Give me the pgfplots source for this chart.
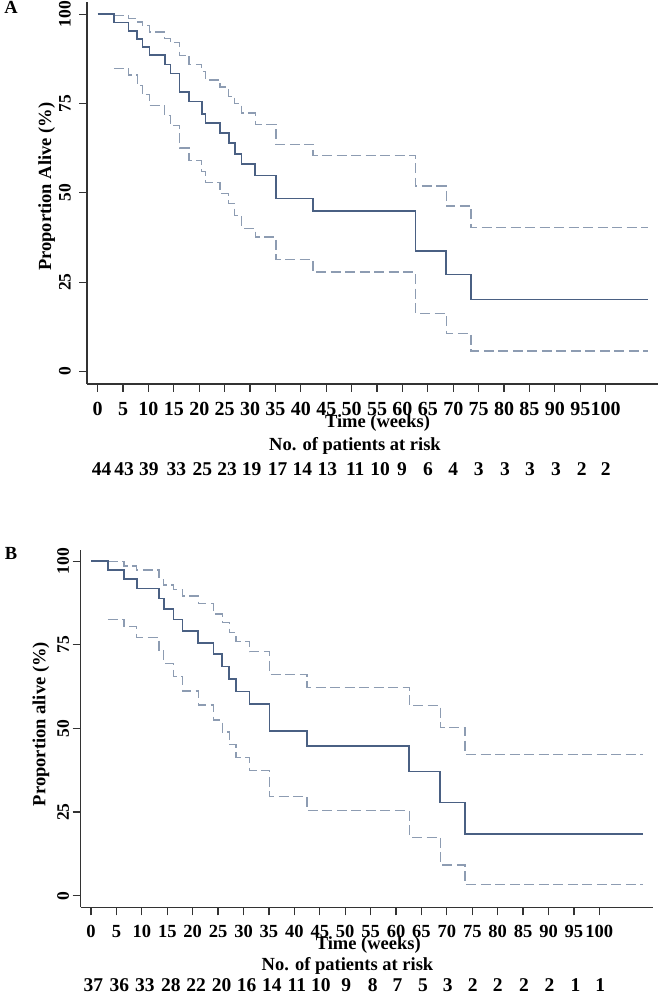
\documentclass[border=0pt]{standalone}
\usepackage{pgfplots}
\usepackage{pgfplotstable}
\pgfplotsset{compat=1.18}
\usepackage{fontspec}
\setmainfont{Liberation Serif}
\definecolor{kmline}{HTML}{4A6083}
\definecolor{kmci}{HTML}{8D9CB2}
\definecolor{axcol}{HTML}{333333}

\pgfplotsset{
  kmaxis/.style={
    scale only axis,
    axis lines*=left,
    axis line style={-, line width=1.4pt, color=axcol},
    tick style={line width=1.2pt, color=axcol},
    tick align=outside,
    major tick length=8pt,
    xtick={0,5,...,100},
    ytick={0,25,50,75,100},
    /pgf/number format/assume math mode=true,
    tick label style={text=black},
    yticklabel style={font=\fontsize{17.5}{19}\selectfont\bfseries, rotate=90, anchor=south},
    label style={font=\fontsize{18.5}{20}\selectfont\bfseries, text=black},
    clip=false,
  },
  km/.style={const plot, line width=1.6pt, color=kmline, mark=none},
  ci/.style={const plot, line width=1.3pt, color=kmci, mark=none, dash pattern=on 10pt off 4.5pt},
  risk/.style={draw=none, mark=none, nodes near coords, point meta=explicit symbolic,
    every node near coord/.style={anchor=center, inner sep=0pt, font=\fontsize{#1}{20}\selectfont\bfseries, text=black}},
}

\pgfplotstableread{
t v
0 100
3.2 97.7
6.1 95.3
7.8 93.0
8.8 90.8
10.2 88.5
13.2 85.9
14.3 83.4
16.1 78.2
18.0 75.6
20.5 72.1
21.2 69.6
24.1 66.7
25.8 63.9
27.0 60.9
28.3 58.0
31.0 54.9
35.1 48.4
42.4 44.9
62.6 33.7
68.6 27.1
73.5 20.2
108.4 20.2
}\solidA
\pgfplotstableread{
t v
3.2 99.6
6.1 98.8
7.8 97.8
8.8 96.8
10.2 95.0
13.2 93.2
14.3 92.0
16.1 88.5
18.0 86.0
20.5 83.9
21.2 81.6
24.1 79.6
25.8 77.0
27.0 75.0
28.3 72.3
31.0 69.2
35.1 63.6
42.4 60.5
62.6 51.9
68.6 46.3
73.5 40.2
108.4 40.2
}\upperA
\pgfplotstableread{
t v
3.2 84.8
6.1 83.0
7.8 80.0
8.8 77.5
10.2 74.5
13.2 71.7
14.3 68.9
16.1 62.5
18.0 59.1
20.5 56.0
21.2 52.9
24.1 49.9
25.8 47.1
27.0 43.7
28.3 40.1
31.0 37.6
35.1 31.3
42.4 27.8
62.6 16.3
68.6 10.6
73.5 5.7
108.4 5.7
}\lowerA
\pgfplotstableread{
t v
0 100
3.3 97.3
6.5 94.6
9.0 91.8
13.4 88.9
14.3 85.7
16.2 82.6
18.0 79.2
21.1 75.6
24.1 72.2
25.8 68.5
27.2 64.8
28.5 61.0
31.2 57.3
35.1 49.3
42.5 44.7
62.6 37.1
68.7 27.9
73.6 18.5
108.5 18.5
}\solidB
\pgfplotstableread{
t v
3.3 99.9
6.5 98.6
9.0 97.4
13.4 94.6
14.3 92.9
16.2 91.6
18.0 89.6
21.1 87.4
24.1 84.2
25.8 81.6
27.2 78.6
28.5 75.9
31.2 72.9
35.1 66.2
42.5 62.3
62.6 56.8
68.7 50.2
73.6 42.3
108.5 42.3
}\upperB
\pgfplotstableread{
t v
3.3 82.6
6.5 80.4
9.0 77.2
13.4 73.4
14.3 69.5
16.2 65.5
18.0 61.2
21.1 57.0
24.1 52.5
25.8 48.9
27.2 45.1
28.5 41.3
31.2 37.4
35.1 29.6
42.5 25.4
62.6 17.5
68.7 9.2
73.6 3.4
108.5 3.4
}\lowerB
\pgfplotstableread{
x y n
0.8 -27.25 44
5.2 -27.25 43
10.1 -27.25 39
15.5 -27.25 33
20.6 -27.25 25
25.5 -27.25 23
30.3 -27.25 19
35.4 -27.25 17
40.3 -27.25 14
45.2 -27.25 13
50.7 -27.25 11
55.6 -27.25 10
59.9 -27.25 9
65.0 -27.25 6
70.0 -27.25 4
75.0 -27.25 3
80.2 -27.25 3
85.1 -27.25 3
90.2 -27.25 3
95.3 -27.25 2
100.0 -27.25 2
}\riskA
\pgfplotstableread{
x y n
0.45 -26.8 37
5.57 -26.8 36
10.6 -26.8 33
15.7 -26.8 28
20.7 -26.8 22
25.7 -26.8 20
30.6 -26.8 16
35.6 -26.8 14
40.5 -26.8 11
45.2 -26.8 10
50.2 -26.8 9
55.4 -26.8 8
60.3 -26.8 7
65.3 -26.8 5
70.2 -26.8 3
75.1 -26.8 2
80.0 -26.8 2
85.2 -26.8 2
90.2 -26.8 2
95.3 -26.8 1
100.2 -26.8 1
}\riskB

\begin{document}
\begin{tikzpicture}
\useasboundingbox (0pt,0pt) rectangle (661pt,996pt);
\node[font=\fontsize{18.5}{20}\selectfont\bfseries] at (11pt,989pt) {A};
\node[font=\fontsize{18.5}{20}\selectfont\bfseries] at (11pt,443pt) {B};

\begin{axis}[kmaxis,
  at={(87pt,612pt)}, anchor=south west,
  width=571pt, height=382pt,
  xmin=-2.1, xmax=110.3, ymin=-3.5, ymax=103.4,
  xticklabel style={font=\fontsize{20}{21}\selectfont\bfseries, inner ysep=1pt, yshift=-9.5pt},
  yticklabel style={inner ysep=8pt},
  xlabel={Time (weeks)},
  xlabel style={at={(axis description cs:0.5088,-0.1035)}, anchor=center, inner sep=0pt},
  ylabel={Proportion Alive (\%)},
  ylabel style={at={(axis description cs:-0.0706,0.5165)}, anchor=center},
]
\addplot[ci] table[x=t,y=v] {\upperA};
\addplot[ci] table[x=t,y=v] {\lowerA};
\addplot[km] table[x=t,y=v] {\solidA};
\addplot[risk=19.5] table[x=x, y=y, meta=n] {\riskA};
\node[font=\fontsize{18.5}{20}\selectfont\bfseries, anchor=center] at (axis cs:50.65,-20.75) {No. of patients at risk};
\end{axis}

\begin{axis}[kmaxis,
  at={(80.7pt,88.7pt)}, anchor=south west,
  width=572pt, height=357.3pt,
  xmin=-2.03, xmax=110.5, ymin=-3.47, ymax=103.35,
  xticklabel style={font=\fontsize{18.5}{20}\selectfont\bfseries, inner ysep=1pt, yshift=-8.7pt},
  xlabel={Time (weeks)},
  xlabel style={at={(axis description cs:0.5028,-0.1045)}, anchor=center, inner sep=0pt},
  ylabel={Proportion alive (\%)},
  ylabel style={at={(axis description cs:-0.0694,0.513)}, anchor=center},
]
\addplot[ci] table[x=t,y=v] {\upperB};
\addplot[ci] table[x=t,y=v] {\lowerB};
\addplot[km] table[x=t,y=v] {\solidB};
\addplot[risk=19.5] table[x=x, y=y, meta=n] {\riskB};
\node[font=\fontsize{18.5}{20}\selectfont\bfseries, anchor=center] at (axis cs:50.45,-20.9) {No. of patients at risk};
\end{axis}
\end{tikzpicture}
\end{document}
